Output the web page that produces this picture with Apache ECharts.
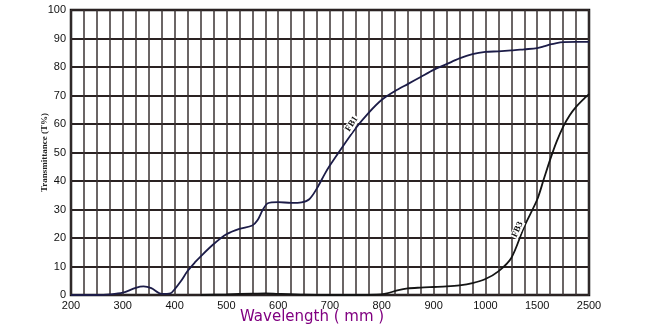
<!DOCTYPE html>
<html><head><meta charset="utf-8">
<script src="https://cdn.jsdelivr.net/npm/echarts@6/dist/echarts.min.js"></script>
<style>html,body{margin:0;padding:0;background:#fff}#c{width:660px;height:334px}</style>
</head><body><div id="c"></div>
<script>
// Tick wavelengths (evenly spaced on the printed axis, scale breaks after 1000)
const tickWavelengths = [200,300,400,500,600,700,800,900,1000,1500,2500];
const tickLabels = ['200','300','400','500','600','700','800','900','1000','1500','2500'];
const yTickValues = [0,10,20,30,40,50,60,70,80,90,100];

// FB1 curve
const fb1Wavelength = [200,225,250,275,300,325,340,355,375,392,400,412,425,440,450,475,500,525,550,560,570,580,600,625,645,660,675,690,700,725,750,775,800,825,850,875,900,925,950,975,1000,1125,1250,1375,1500,1625,1750,1875,2000,2250,2500];
const fb1Transmittance = [0,0,0,0.2,0.8,2.5,3,2.4,0.4,0.6,2,4.8,8.4,11.6,13.5,17.8,21.3,23.2,24.4,26.2,29.8,32.2,32.6,32.3,32.5,33.6,37.5,42.5,45.5,52.2,58.6,64,68.5,71.5,74,76.5,79,81,83,84.5,85.3,85.5,85.8,86.2,86.6,87.2,87.9,88.4,88.7,88.8,88.8];

// FB3 curve
const fb3Wavelength = [450,500,550,575,600,650,700,750,790,810,830,850,875,900,925,950,975,1000,1125,1250,1375,1500,1625,1750,1875,2000,2125,2250,2375,2500];
const fb3Transmittance = [0,0.2,0.5,0.6,0.4,0.1,0,0,0.1,0.6,1.6,2.3,2.6,2.8,3,3.4,4.2,5.6,8.3,13,24,33.5,40.5,47.5,53.8,59,63,66,68.4,70.5];

// Curve labels
const curveLabels = ['FB1','FB3'];
const labelWavelength = [742, 1310];
const labelTransmittance = [60, 23];

function toPos(w) {
  for (let i = 0; i < tickWavelengths.length - 1; i++) {
    const a = tickWavelengths[i], b = tickWavelengths[i + 1];
    if (w <= b) return i + (w - a) / (b - a);
  }
  return tickWavelengths.length - 1;
}
const pair = (ws, vs) => ws.map((w, i) => [toPos(w), vs[i]]);

const chart = echarts.init(document.getElementById('c'), null, {renderer: 'canvas'});
const labelStyle = {
  show: true, position: 'inside', color: '#111', fontFamily: 'Liberation Serif',
  fontWeight: 'bold', fontSize: 9, backgroundColor: '#fff', padding: [0, 1]
};
chart.setOption({
  animation: false,
  backgroundColor: '#fff',
  grid: {left: 71, right: 71, top: 10, bottom: 39, show: true, borderColor: '#111', borderWidth: 2.5, backgroundColor: 'transparent'},
  xAxis: {
    type: 'value', min: 0, max: tickWavelengths.length - 1, interval: 0.25,
    axisLine: {show: false}, axisTick: {show: false},
    splitLine: {show: true, lineStyle: {color: '#3a3232', width: 1.5}},
    axisLabel: {
      margin: 5, color: '#111', fontFamily: 'Liberation Sans', fontSize: 11,
      showMinLabel: true, showMaxLabel: true, hideOverlap: false,
      formatter: v => { const r = Math.round(v * 4) / 4; return Number.isInteger(r) ? tickLabels[r] : ''; }
    }
  },
  yAxis: {
    type: 'value', min: yTickValues[0], max: yTickValues[yTickValues.length - 1], interval: 10,
    name: 'Transmittance (T%)', nameLocation: 'middle', nameGap: 22, nameRotate: 90, nameMoveOverlap: false,
    nameTextStyle: {fontFamily: 'Liberation Serif', fontWeight: 'bold', fontSize: 9, color: '#222'},
    axisLine: {show: false}, axisTick: {show: false},
    splitLine: {show: true, lineStyle: {color: '#2a2222', width: 2}},
    axisLabel: {margin: 5, color: '#111', fontFamily: 'Liberation Sans', fontSize: 11}
  },
  graphic: [{
    type: 'text', left: 240, top: 310,
    style: {text: 'Wavelength ( mm )', fill: '#800080', font: '15px "DejaVu Sans"'}
  }],
  series: [
    {
      name: 'FB1', type: 'line', data: pair(fb1Wavelength, fb1Transmittance),
      showSymbol: false, smooth: 0.3, lineStyle: {color: '#1c1c48', width: 1.8},
      markPoint: {symbol: 'circle', symbolSize: 0, data: [{coord: [toPos(labelWavelength[0]), labelTransmittance[0]], value: curveLabels[0],
        label: Object.assign({}, labelStyle, {formatter: curveLabels[0], rotate: 57})}]}
    },
    {
      name: 'FB3', type: 'line', data: pair(fb3Wavelength, fb3Transmittance),
      showSymbol: false, smooth: 0.3, lineStyle: {color: '#141414', width: 1.8},
      markPoint: {symbol: 'circle', symbolSize: 0, data: [{coord: [toPos(labelWavelength[1]), labelTransmittance[1]], value: curveLabels[1],
        label: Object.assign({}, labelStyle, {formatter: curveLabels[1], rotate: 65})}]}
    }
  ]
});
</script></body></html>
